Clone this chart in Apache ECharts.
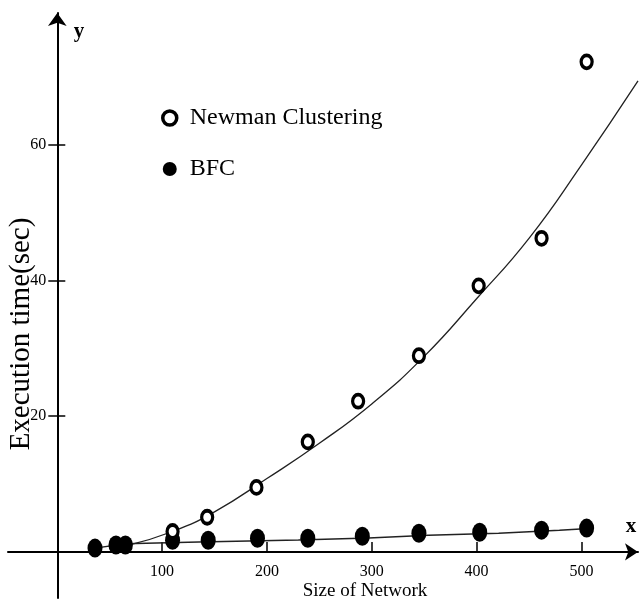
<!DOCTYPE html>
<html>
<head>
<meta charset="utf-8">
<script src="https://cdn.jsdelivr.net/npm/echarts@6/dist/echarts.min.js"></script>
<style>
  html, body { margin: 0; padding: 0; background: #fff; }
  #main { width: 639px; height: 602px; }
</style>
</head>
<body>
<div id="main"></div>
<script>
// values
var newmanPoints = [[110, 3.0], [143, 5.1], [190, 9.5], [239, 16.2], [287, 22.2], [345, 28.9], [402, 39.2], [462, 46.2], [505, 72.2]];
var bfcPoints = [[36, 0.55], [56, 1.0], [65, 1.0], [110, 1.7], [144, 1.7], [191, 2.0], [239, 2.0], [291, 2.3], [345, 2.75], [403, 2.9], [462, 3.2], [505, 3.5]];
// fitted curves
var newmanFit = [[68, 1.0], [110, 3.0], [150, 5.9], [200, 10.8], [250, 16.0], [300, 21.8], [350, 28.8], [400, 37.3], [450, 46.2], [500, 57.0], [554, 69.4]];
var bfcFit = [[36, 0.55], [65, 1.2], [135, 1.45], [230, 1.75], [297, 2.05], [354, 2.45], [421, 2.75], [479, 3.2], [507, 3.45]];
var xTicks = [100, 200, 300, 400, 500];
var yTicks = [20, 40, 60];

var FONT = 'Liberation Serif';
var chart = echarts.init(document.getElementById('main'));
var option = {
    backgroundColor: '#fff',
    animation: false,
    grid: { left: 8, right: 1, top: 13, bottom: 4, containLabel: false, outerBoundsMode: 'none' },
    legend: {
        orient: 'vertical',
        left: 156,
        top: 101,
        itemGap: 27,
        itemWidth: 14,
        itemHeight: 16,
        textStyle: { fontFamily: FONT, fontSize: 24, color: '#000', padding: [0, 0, 0, 8] },
        data: [
            { name: 'Newman Clustering', icon: 'circle', itemStyle: { color: '#fff', borderColor: '#000', borderWidth: 3.5 } },
            { name: 'BFC', icon: 'circle', itemStyle: { color: '#000', borderWidth: 0 } }
        ]
    },
    // axes sit at the grid edges, shifted inwards so they cross at (0, 0)
    xAxis: {
        type: 'value',
        min: -47,
        max: 554,
        offset: -46.1,
        splitLine: { show: false },
        axisLine: { onZero: false, lineStyle: { color: '#000', width: 2 }, symbol: ['none', 'arrow'], symbolSize: [13, 13] },
        axisTick: { inside: true, length: 10, customValues: xTicks, lineStyle: { color: '#000', width: 1.5 } },
        axisLabel: { customValues: xTicks, margin: 12, fontFamily: FONT, fontSize: 16, color: '#000' }
    },
    yAxis: [{
        type: 'value',
        min: -6.8,
        max: 79.4,
        offset: -49.3,
        splitLine: { show: false },
        axisLine: { onZero: false, lineStyle: { color: '#000', width: 2 }, symbol: ['none', 'arrow'], symbolSize: [14, 13] },
        axisTick: { length: 9, customValues: yTicks, lineStyle: { color: '#000', width: 1.5 } },
        axisLabel: { customValues: yTicks, margin: 11, fontFamily: FONT, fontSize: 16, color: '#000' }
    }, {
        type: 'value',
        position: 'left',
        min: -6.8,
        max: 79.4,
        offset: -49.3,
        splitLine: { show: false },
        axisLine: { show: false, onZero: false },
        axisTick: { inside: true, length: 8, customValues: yTicks, lineStyle: { color: '#000', width: 1.5 } },
        axisLabel: { show: false }
    }],
    graphic: [
        { type: 'text', x: 79, y: 32, style: { text: 'y', font: 'bold 21px "Liberation Serif"', fill: '#000', textAlign: 'center', textVerticalAlign: 'middle' } },
        { type: 'text', x: 631, y: 527, style: { text: 'x', font: 'bold 21px "Liberation Serif"', fill: '#000', textAlign: 'center', textVerticalAlign: 'middle' } },
        { type: 'text', x: 365, y: 591, style: { text: 'Size of Network', font: '19px "Liberation Serif"', fill: '#000', textAlign: 'center', textVerticalAlign: 'middle' } },
        { type: 'text', x: 21, y: 334, rotation: Math.PI / 2, style: { text: 'Execution time(sec)', font: '29px "Liberation Serif"', fill: '#000', textAlign: 'center', textVerticalAlign: 'middle' } }
    ],
    series: [
        { name: 'Newman fit', type: 'line', smooth: true, symbol: 'none', data: newmanFit, lineStyle: { color: '#222', width: 1.3 }, z: 1 },
        { name: 'BFC fit', type: 'line', symbol: 'none', data: bfcFit, lineStyle: { color: '#222', width: 1.5 }, z: 1 },
        { name: 'BFC', type: 'scatter', data: bfcPoints, symbol: 'circle', symbolSize: [15, 19], itemStyle: { color: '#000', opacity: 1 }, z: 3 },
        { name: 'Newman Clustering', type: 'scatter', data: newmanPoints, symbol: 'circle', symbolSize: [11, 13], itemStyle: { color: '#fff', borderColor: '#000', borderWidth: 3.5, opacity: 1 }, z: 4 }
    ]
};
chart.setOption(option);
</script>
</body>
</html>
